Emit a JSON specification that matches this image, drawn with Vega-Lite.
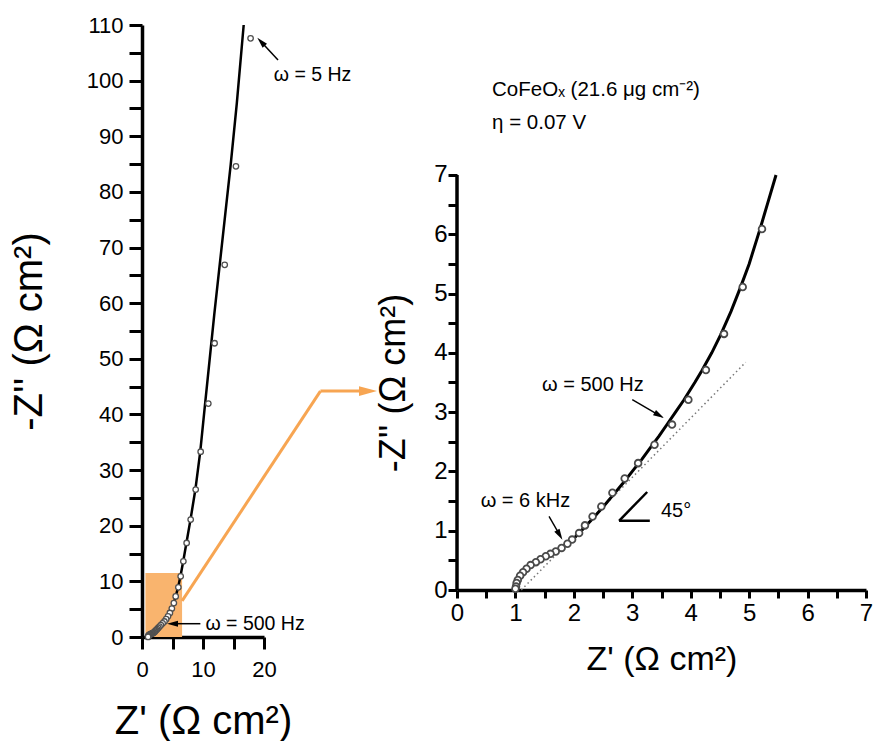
{
  "$schema": "https://vega.github.io/schema/vega-lite/v6.json",
  "padding": {"left": 9, "top": 14, "right": 0, "bottom": 0},
  "bounds": "flush",
  "spacing": 193,
  "config": {
    "view": {"stroke": null},
    "font": "Liberation Sans",
    "axis": {"grid": false, "labelColor": "black", "titleColor": "black", "titleFontWeight": "normal", "labelFlush": false, "labelOverlap": false, "labelFont": "Liberation Sans", "titleFont": "Liberation Sans", "zindex": 1}
  },
  "datasets": {
    "pts": [
      {"x": 17.8, "y": 107.6}, {"x": 15.4, "y": 84.6}, {"x": 13.56, "y": 66.9}, {"x": 11.9, "y": 52.8},
      {"x": 10.87, "y": 41.96}, {"x": 9.62, "y": 33.3}, {"x": 8.8, "y": 26.5}, {"x": 7.98, "y": 21.1},
      {"x": 7.32, "y": 16.9}, {"x": 6.78, "y": 13.6}, {"x": 6.34, "y": 10.9}, {"x": 5.96, "y": 8.93},
      {"x": 5.52, "y": 7.3}, {"x": 5.22, "y": 6.09}, {"x": 4.89, "y": 5.11}, {"x": 4.57, "y": 4.32},
      {"x": 4.26, "y": 3.71}, {"x": 3.96, "y": 3.21}, {"x": 3.68, "y": 2.79}, {"x": 3.38, "y": 2.45},
      {"x": 3.1, "y": 2.14}, {"x": 2.87, "y": 1.88}, {"x": 2.66, "y": 1.64}, {"x": 2.47, "y": 1.41},
      {"x": 2.32, "y": 1.24}, {"x": 2.19, "y": 1.09}, {"x": 2.09, "y": 0.96}, {"x": 1.97, "y": 0.85},
      {"x": 1.89, "y": 0.78}, {"x": 1.79, "y": 0.71}, {"x": 1.69, "y": 0.65}, {"x": 1.6, "y": 0.61},
      {"x": 1.52, "y": 0.57}, {"x": 1.43, "y": 0.52}, {"x": 1.35, "y": 0.47}, {"x": 1.26, "y": 0.42},
      {"x": 1.19, "y": 0.36}, {"x": 1.13, "y": 0.3}, {"x": 1.08, "y": 0.24}, {"x": 1.04, "y": 0.17},
      {"x": 1.02, "y": 0.12}, {"x": 1.01, "y": 0.06}, {"x": 1.0, "y": 0.02}
    ],
    "fit": [
      {"x": 0.97, "y": 0}, {"x": 0.99, "y": 0.1}, {"x": 1.03, "y": 0.2}, {"x": 1.11, "y": 0.3},
      {"x": 1.24, "y": 0.4}, {"x": 1.4, "y": 0.5}, {"x": 1.58, "y": 0.6}, {"x": 1.75, "y": 0.7},
      {"x": 1.91, "y": 0.8}, {"x": 2.03, "y": 0.9}, {"x": 2.13, "y": 1.0}, {"x": 2.32, "y": 1.2},
      {"x": 2.5, "y": 1.4}, {"x": 2.67, "y": 1.6}, {"x": 2.84, "y": 1.8}, {"x": 3.0, "y": 2.0},
      {"x": 3.16, "y": 2.2}, {"x": 3.31, "y": 2.4}, {"x": 3.46, "y": 2.6}, {"x": 3.6, "y": 2.8},
      {"x": 3.74, "y": 3.0}, {"x": 3.88, "y": 3.2}, {"x": 4.07, "y": 3.5}, {"x": 4.19, "y": 3.7},
      {"x": 4.36, "y": 4.0}, {"x": 4.51, "y": 4.3}, {"x": 4.69, "y": 4.7}, {"x": 4.85, "y": 5.1},
      {"x": 5.0, "y": 5.5}, {"x": 5.19, "y": 6.1}, {"x": 5.31, "y": 6.5}, {"x": 5.46, "y": 7.0},
      {"x": 5.93, "y": 9.0}, {"x": 6.32, "y": 11.0}, {"x": 6.76, "y": 13.6}, {"x": 7.28, "y": 16.9},
      {"x": 7.95, "y": 21.1}, {"x": 8.75, "y": 26.5}, {"x": 9.55, "y": 33.3}, {"x": 10.35, "y": 42},
      {"x": 11.1, "y": 50}, {"x": 11.85, "y": 58}, {"x": 12.75, "y": 67}, {"x": 13.65, "y": 76},
      {"x": 14.55, "y": 85}, {"x": 15.55, "y": 96}, {"x": 16.67, "y": 110}
    ]
  },
  "hconcat": [
    {
      "width": 122,
      "height": 612,
      "encoding": {
        "x": {"field": "x", "type": "quantitative", "scale": {"domain": [0, 20], "nice": false},
          "axis": {"title": "Z' (Ω cm²)", "values": [0, 5, 10, 15, 20], "labelExpr": "datum.value % 10 === 0 ? datum.label : ''",
            "tickSize": 12, "tickWidth": 3, "tickColor": "black", "domainWidth": 3.5, "domainColor": "black",
            "labelFontSize": 22, "labelPadding": 10, "titleFontSize": 40, "titlePadding": 21}},
        "y": {"field": "y", "type": "quantitative", "scale": {"domain": [0, 110], "nice": false},
          "axis": {"title": "-Z'' (Ω cm²)", "values": [0, 5, 10, 15, 20, 25, 30, 35, 40, 45, 50, 55, 60, 65, 70, 75, 80, 85, 90, 95, 100, 105, 110],
            "labelExpr": "datum.value % 10 === 0 ? datum.label : ''",
            "tickSize": 13, "tickWidth": 3, "tickColor": "black", "domainWidth": 3.5, "domainColor": "black",
            "labelFontSize": 22, "labelPadding": 6, "titleFontSize": 40, "titlePadding": 37}}
      },
      "layer": [
        {"data": {"values": [{"x": 0.56, "x2": 6.57, "y": 0, "y2": 11.5}]},
         "mark": {"type": "rect", "color": "#F9B46E", "opacity": 1},
         "encoding": {"x2": {"field": "x2"}, "y2": {"field": "y2"}}},
        {"data": {"values": [{"x": 6.57, "y": 6.5, "x2": 29.25, "y2": 44.2}, {"x": 29.25, "y": 44.2, "x2": 35.8, "y2": 44.2}]},
         "mark": {"type": "rule", "color": "#F7A552", "strokeWidth": 3, "clip": false},
         "encoding": {"x2": {"field": "x2"}, "y2": {"field": "y2"}}},
        {"data": {"values": [{"x": 37.05, "y": 44.2}]},
         "mark": {"type": "point", "shape": "M 1 0 L -1 -0.55 L -1 0.55 Z", "size": 324, "filled": true, "color": "#F7A552", "opacity": 1, "angle": 0, "clip": false}},
        {"data": {"name": "fit"},
         "mark": {"type": "line", "color": "black", "strokeWidth": 2.5},
         "encoding": {"order": {"field": "y", "type": "quantitative"}}},
        {"data": {"name": "pts"},
         "mark": {"type": "circle", "size": 30, "fill": "white", "stroke": "#505050", "strokeWidth": 1.3, "opacity": 1}},
        {"data": {"values": [{"x": 22.3, "y": 103.7, "x2": 19.52, "y2": 107.0}, {"x": 9.57, "y": 2.39, "x2": 5.0, "y2": 2.39}]},
         "mark": {"type": "rule", "color": "black", "strokeWidth": 1.5, "clip": false},
         "encoding": {"x2": {"field": "x2"}, "y2": {"field": "y2"}}},
        {"data": {"values": [{"x": 19.52, "y": 107.0}]},
         "mark": {"type": "point", "shape": "M 1 0 L -1 -0.55 L -1 0.55 Z", "size": 121, "filled": true, "color": "black", "opacity": 1, "angle": 227, "clip": false}},
        {"data": {"values": [{"x": 5.0, "y": 2.39}]},
         "mark": {"type": "point", "shape": "M 1 0 L -1 -0.55 L -1 0.55 Z", "size": 121, "filled": true, "color": "black", "opacity": 1, "angle": 180, "clip": false}},
        {"data": {"values": [{"x": 21.6, "y": 101.0, "t": "ω = 5 Hz"}, {"x": 10.4, "y": 2.39, "t": "ω = 500 Hz"}]},
         "mark": {"type": "text", "align": "left", "baseline": "middle", "fontSize": 19.5, "color": "black", "clip": false},
         "encoding": {"text": {"field": "t"}}}
      ]
    },
    {
      "width": 409,
      "height": 565,
      "encoding": {
        "x": {"field": "x", "type": "quantitative", "scale": {"domain": [0, 7], "nice": false},
          "axis": {"title": "Z' (Ω cm²)", "values": [0, 0.5, 1, 1.5, 2, 2.5, 3, 3.5, 4, 4.5, 5, 5.5, 6, 6.5, 7], "format": ".0f",
            "labelExpr": "datum.value % 1 === 0 ? datum.label : ''",
            "tickSize": 8, "tickWidth": 3, "tickColor": "black", "domainWidth": 3.5, "domainColor": "black",
            "labelFontSize": 24, "labelPadding": 3, "titleFontSize": 34, "titlePadding": 17}},
        "y": {"field": "y", "type": "quantitative", "scale": {"domain": [0, 9.53], "nice": false},
          "axis": {"title": "-Z'' (Ω cm²)", "values": [0, 0.5, 1, 1.5, 2, 2.5, 3, 3.5, 4, 4.5, 5, 5.5, 6, 6.5, 7], "format": ".0f",
            "labelExpr": "datum.value % 1 === 0 ? datum.label : ''", "domain": false,
            "tickSize": 9, "tickWidth": 3, "tickColor": "black",
            "labelFontSize": 24, "labelPadding": 1, "titleFontSize": 36, "titlePadding": 21, "titleY": 357.5}}
      },
      "layer": [
        {"data": {"values": [{"x": 1.1, "y": 0, "x2": 4.94, "y2": 3.84}]},
         "mark": {"type": "rule", "color": "#777777", "strokeWidth": 1.5, "strokeDash": [1.5, 3]},
         "encoding": {"x2": {"field": "x2"}, "y2": {"field": "y2"}}},
        {"data": {"values": [{"x": 0, "y": 0, "x2": 0, "y2": 7}]},
         "mark": {"type": "rule", "color": "black", "strokeWidth": 3.5},
         "encoding": {"x2": {"field": "x2"}, "y2": {"field": "y2"}}},
        {"data": {"name": "fit"},
         "transform": [{"filter": "datum.y <= 7.01"}],
         "mark": {"type": "line", "color": "black", "strokeWidth": 3},
         "encoding": {"order": {"field": "y", "type": "quantitative"}}},
        {"data": {"name": "pts"},
         "transform": [{"filter": "datum.y <= 7"}],
         "mark": {"type": "circle", "size": 45, "fill": "white", "stroke": "#4a4a4a", "strokeWidth": 1.8, "opacity": 1}},
        {"data": {"values": [{"x": 3.0, "y": 3.21, "x2": 3.462, "y2": 2.947}, {"x": 1.575, "y": 1.243, "x2": 1.757, "y2": 0.929}]},
         "mark": {"type": "rule", "color": "black", "strokeWidth": 1.4},
         "encoding": {"x2": {"field": "x2"}, "y2": {"field": "y2"}}},
        {"data": {"values": [{"x": 3.462, "y": 2.947}]},
         "mark": {"type": "point", "shape": "M 1 0 L -1 -0.55 L -1 0.55 Z", "size": 121, "filled": true, "color": "black", "opacity": 1, "angle": 30}},
        {"data": {"values": [{"x": 1.757, "y": 0.929}]},
         "mark": {"type": "point", "shape": "M 1 0 L -1 -0.55 L -1 0.55 Z", "size": 121, "filled": true, "color": "black", "opacity": 1, "angle": 60}},
        {"data": {"values": [{"x": 3.255, "y": 1.653, "x2": 2.774, "y2": 1.168}, {"x": 2.774, "y": 1.168, "x2": 3.3, "y2": 1.168}]},
         "mark": {"type": "rule", "color": "black", "strokeWidth": 2.5},
         "encoding": {"x2": {"field": "x2"}, "y2": {"field": "y2"}}},
        {"data": {"values": [{"x": 1.455, "y": 3.457, "t": "ω = 500 Hz"}, {"x": 0.405, "y": 1.496, "t": "ω = 6 kHz"}, {"x": 3.49, "y": 1.33, "t": "45°"}]},
         "mark": {"type": "text", "align": "left", "baseline": "middle", "fontSize": 20, "color": "black"},
         "encoding": {"text": {"field": "t"}}},
        {"data": {"values": [{"x": 0.6, "y": 8.43, "t": "CoFeOₓ (21.6 μg cm⁻²)"}, {"x": 0.6, "y": 7.88, "t": "η = 0.07 V"}]},
         "mark": {"type": "text", "align": "left", "baseline": "middle", "fontSize": 20.5, "color": "black"},
         "encoding": {"text": {"field": "t"}}}
      ]
    }
  ]
}
